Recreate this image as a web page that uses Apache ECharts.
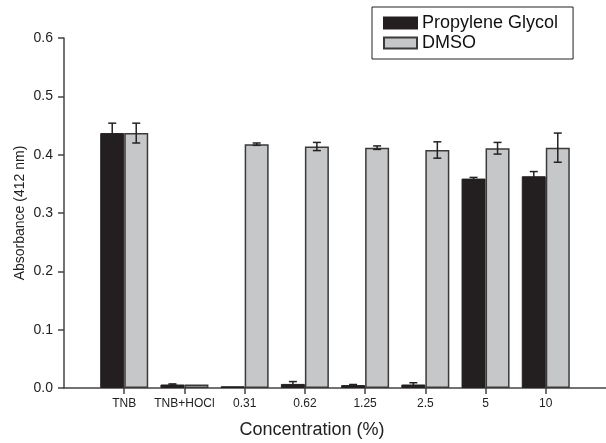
<!DOCTYPE html>
<html><head><meta charset="utf-8">
<script src="https://cdn.jsdelivr.net/npm/echarts@6/dist/echarts.min.js"></script>
<style>html,body{margin:0;padding:0;background:#fff}#c{width:606px;height:443px}</style>
</head><body><div id="c"></div>
<script>
var categories = ['', 'TNB', 'TNB+HOCl', '0.31', '0.62', '1.25', '2.5', '5', '10', ''];
var pgValues   = [null, 0.437, 0.006, 0.003, 0.007, 0.005, 0.006, 0.359, 0.363, null];
var pgErr      = [null, 0.017, 0.001, 0.000, 0.004, 0.001, 0.003, 0.002, 0.008, null];
var dmsoValues = [null, 0.437, 0.006, 0.418, 0.414, 0.412, 0.408, 0.411, 0.412, null];
var dmsoErr    = [null, 0.017, 0.000, 0.002, 0.007, 0.003, 0.014, 0.010, 0.025, null];
var yTicks = [0, 0.1, 0.2, 0.3, 0.4, 0.5, 0.6];

var BAR_W = 24;
function errData(vals, errs){
  var out = [];
  for (var i = 0; i < vals.length; i++) {
    if (vals[i] == null) continue;
    out.push([i, vals[i], errs[i]]);
  }
  return out;
}
function errRender(shift){
  return function(params, api){
    var i = api.value(0), v = api.value(1), e = api.value(2);
    if (!e) return null;
    var top = api.coord([i, v + e]);
    var bot = api.coord([i, v - e]);
    var x = top[0] + shift;
    var cap = 4;
    return {type:'group', children:[
      {type:'line', shape:{x1:x, y1:top[1], x2:x, y2:bot[1]}, style:{stroke:'#222', lineWidth:1.5}},
      {type:'line', shape:{x1:x-cap, y1:top[1], x2:x+cap, y2:top[1]}, style:{stroke:'#222', lineWidth:1.5}},
      {type:'line', shape:{x1:x-cap, y1:bot[1], x2:x+cap, y2:bot[1]}, style:{stroke:'#222', lineWidth:1.5}}
    ]};
  };
}

var chart = echarts.init(document.getElementById('c'), null, {renderer:'canvas'});
chart.setOption({
  animation:false,
  backgroundColor:'#fff',
  textStyle:{fontFamily:'Liberation Sans, Arial, sans-serif'},
  grid:{left:64, right:0, top:38, bottom:55, containLabel:false, outerBoundsMode:'none'},
  legend:{
    orient:'vertical', left:372, top:7,
    data:['Propylene Glycol','DMSO'],
    itemWidth:33, itemHeight:11, itemGap:2,
    borderColor:'#222', borderWidth:1,
    padding:[7, 15, 7, 11],
    textStyle:{fontSize:18, color:'#111', lineHeight:18},
    icon:'rect'
  },
  xAxis:{
    type:'category', data:categories, boundaryGap:false,
    axisLine:{lineStyle:{color:'#444', width:1.5}},
    axisTick:{show:true, inside:false, length:6, lineStyle:{color:'#444', width:1.5},
      interval:function(idx){ return idx > 0 && idx < categories.length - 1; }},
    axisLabel:{fontSize:12, color:'#222', margin:10, interval:0},
    splitLine:{show:false},
    name:'Concentration (%)', nameLocation:'middle', nameGap:33, nameMoveOverlap:false,
    nameTextStyle:{fontSize:18, color:'#222', padding:[0,46,0,0]}
  },
  yAxis:{
    type:'value', min:yTicks[0], max:yTicks[yTicks.length-1], interval:0.1,
    axisLine:{show:true, lineStyle:{color:'#444', width:1.5}},
    axisTick:{show:true, inside:false, length:6, lineStyle:{color:'#444', width:1.5}},
    axisLabel:{fontSize:14, color:'#222', margin:11, formatter:function(v){return v.toFixed(1);}},
    splitLine:{show:false},
    name:'Absorbance (412 nm)', nameLocation:'middle', nameGap:37, nameRotate:90, nameMoveOverlap:false,
    nameTextStyle:{fontSize:14, color:'#222'}
  },
  series:[
    {name:'Propylene Glycol', type:'bar', data:pgValues, barWidth:BAR_W, barGap:'0%',
      itemStyle:{color:'#231f20', borderColor:'#231f20', borderWidth:1}},
    {name:'DMSO', type:'bar', data:dmsoValues, barWidth:BAR_W, barGap:'0%',
      itemStyle:{color:'#c6c7c9', borderColor:'#3a3a3a', borderWidth:1.5}},
    {type:'custom', data:errData(pgValues, pgErr), renderItem:errRender(-BAR_W/2),
      encode:{x:0, y:1}, z:5, silent:true},
    {type:'custom', data:errData(dmsoValues, dmsoErr), renderItem:errRender(BAR_W/2),
      encode:{x:0, y:1}, z:5, silent:true}
  ]
});
</script></body></html>
